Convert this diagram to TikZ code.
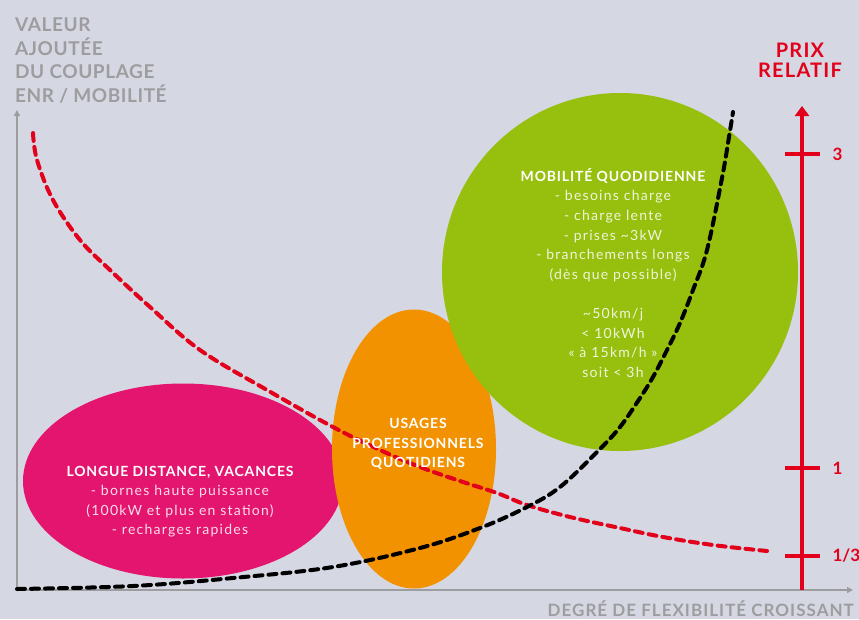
\documentclass[tikz,border=0pt]{standalone}
\usepackage{fontspec}
\setmainfont{Lato}
\usepackage{xcolor}
\usetikzlibrary{arrows.meta,shapes.geometric}

\definecolor{fond}{HTML}{D5D7E3}
\definecolor{gris}{HTML}{9D9D9F}
\definecolor{rouge}{HTML}{E2001A}
\definecolor{vert}{HTML}{97BF0D}
\definecolor{orange}{HTML}{F39200}
\definecolor{magenta}{HTML}{E3156F}

\begin{document}
\begin{tikzpicture}[x=1pt,y=-1pt,
    zone/.style={ellipse,inner sep=0pt},
    texte/.style={align=center,text=white,font=\fontsize{14}{19.6}\selectfont\addfontfeature{LetterSpace=9}},
    titre/.style={align=center,text=white,font=\fontsize{14}{19.3}\selectfont\bfseries\addfontfeature{LetterSpace=6}},
    titregris/.style={align=left,text=gris,inner sep=0pt,font=\fontsize{19}{23.5}\selectfont\bfseries\addfontfeature{LetterSpace=3}},
    courbe/.style={line width=4pt,dash pattern=on 8pt off 6pt,line cap=round},
    graduation/.style={text=rouge,anchor=west,font=\fontsize{17}{17}\selectfont\bfseries}]
        \fill[fond] (0,0) rectangle (859,619);
        \useasboundingbox (0,0) rectangle (859,619);
        % zones
        \node[zone,fill=magenta,minimum width=320,minimum height=195](longue) at (183,481) {};
        \node[zone,fill=orange,minimum width=164,minimum height=279](pro) at (414,449) {};
        \node[zone,fill=vert,minimum width=356,minimum height=358](quotidien) at (620,272) {};
        % axes
        \coordinate(origine) at (17,590);
        \coordinate(haut) at (17,110);
        \coordinate(droite) at (853,590);
        \draw[gris,line width=1.6pt,-{Triangle[length=6pt,width=6pt]}](origine)--(haut);
        \draw[gris,line width=1.6pt,-{Triangle[length=6pt,width=6pt]}](origine)--(droite);
        \coordinate(prixbas) at (802,590);
        \coordinate(prixhaut) at (802,106);
        \draw[rouge,line width=4pt,-{Triangle[length=10pt,width=14pt]}](prixbas)--(prixhaut);
        \foreach \y/\v in {154/3,468/1,556/{1/3}}{
            \draw[rouge,line width=4pt](785,\y)--(820,\y);
            \node[graduation](g\y) at (829,\y) {\v};
        }
        % courbes
        \draw[courbe,rouge] plot[smooth,tension=0.6] coordinates {(33,133) (37,160) (53,200) (80,240) (110,270) (150,307) (200,350) (267,390) (333,427) (380,450) (420,467) (460,481) (497,493) (527,505) (570,517) (620,528) (663,537) (713,545) (767,551)};
        \draw[courbe,black] plot[smooth,tension=0.6] coordinates {(17,589) (133,586) (233,578) (333,567) (420,548) (480,528) (527,507) (560,487) (597,452) (620,427) (640,398) (653,377) (667,350) (680,323) (693,290) (707,250) (722,178) (729,137) (733,112)};
        % textes
        \node[titre](tlongue) at (180,472) {LONGUE DISTANCE, VACANCES};
        \node[texte,anchor=north](dlongue) at (tlongue.south) {\color{white!85!magenta}- bornes haute puissance\\
            \color{white!85!magenta}(100kW et plus en station)\\
            \color{white!85!magenta}- recharges rapides};
        \node[titre](tpro) at (418,444) {USAGES\\PROFESSIONNELS\\QUOTIDIENS};
        \node[titre](tquotidien) at (613,176) {MOBILITÉ QUODIDIENNE};
        \node[texte,anchor=north](dquotidien) at (tquotidien.south) {\color{white!85!vert}- besoins charge\\
            \color{white!85!vert}- charge lente\\
            \color{white!85!vert}- prises \textasciitilde3kW\\
            \color{white!85!vert}- branchements longs\\
            \color{white!85!vert}(dès que possible)\\[19.6pt]
            \color{white!85!vert}\textasciitilde50km/j\\
            \color{white!85!vert}< 10kWh\\
            \color{white!85!vert}« à 15km/h »\\
            \color{white!85!vert}soit < 3h};
        \node[titregris,anchor=north west](valeur) at (15,18) {VALEUR\\AJOUTÉE\\DU COUPLAGE\\ENR / MOBILITÉ};
        \node[titregris,text=rouge,align=center,anchor=north,font=\fontsize{20}{20}\selectfont\bfseries\addfontfeature{LetterSpace=6}](prix) at (800,43) {PRIX\\RELATIF};
        \node[titregris,anchor=east,font=\fontsize{17}{17}\selectfont\bfseries\addfontfeature{LetterSpace=6}](degre) at (854,609) {DEGRÉ DE FLEXIBILITÉ CROISSANT};
\end{tikzpicture}
\end{document}
